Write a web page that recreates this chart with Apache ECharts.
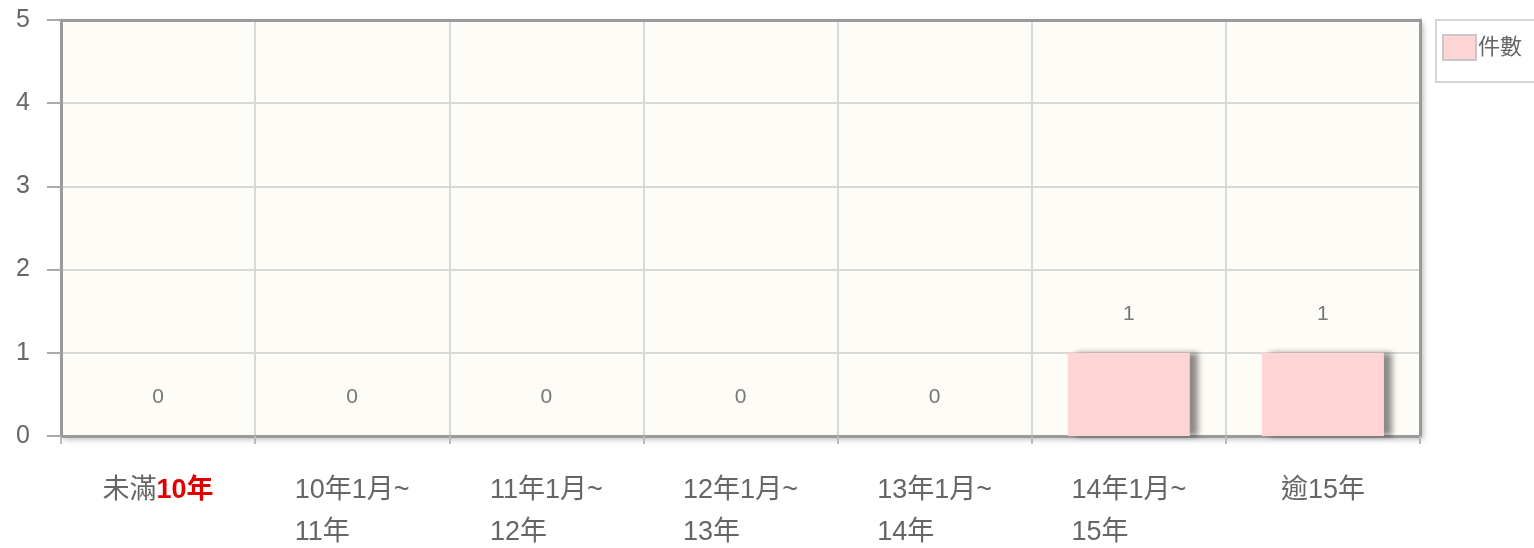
<!DOCTYPE html>
<html>
<head>
<meta charset="utf-8">
<script src="https://cdn.jsdelivr.net/npm/echarts@6/dist/echarts.min.js"></script>
<style>
html,body{margin:0;padding:0;background:#fff;}
#chart{width:1534px;height:548px;}
</style>
</head>
<body>
<div id="chart"></div>
<script>
// 類別
var categories = ['未滿10年', '10年1月~\n11年', '11年1月~\n12年', '12年1月~\n13年', '13年1月~\n14年', '14年1月~\n15年', '逾15年'];
// 件數
var counts = [0, 0, 0, 0, 0, 1, 1];
var seriesName = '件數';

var myChart = echarts.init(document.getElementById('chart'));
var fontFam = '"Liberation Sans", "Noto Sans CJK TC", sans-serif';
var borderLine = { show: true, onZero: false, lineStyle: { color: '#9a9a9a', width: 3 } };

var option = {
    animation: false,
    textStyle: { fontFamily: fontFam },
    legend: {
        show: true,
        left: 1436,
        top: 20,
        orient: 'vertical',
        padding: [14, 40, 21, 6],
        backgroundColor: '#fff',
        borderColor: '#d4d4d4',
        borderWidth: 2,
        itemWidth: 33,
        itemHeight: 25,
        icon: 'rect',
        itemStyle: { borderColor: '#c8c8c8', borderWidth: 2 },
        textStyle: { color: '#666', fontSize: 22, fontFamily: fontFam, padding: [0, 0, 0, -3] },
        data: [seriesName]
    },
    grid: {
        left: 61,
        right: 114,
        top: 20,
        bottom: 112,
        outerBoundsMode: 'none',
        containLabel: false,
        show: true,
        backgroundColor: '#fefcf6',
        borderWidth: 0,
        shadowColor: 'rgba(0,0,0,0.3)',
        shadowBlur: 6,
        shadowOffsetX: 3,
        shadowOffsetY: 3
    },
    xAxis: [{
        type: 'category',
        data: categories,
        axisLine: borderLine,
        axisTick: { show: true, length: 8, lineStyle: { color: '#bbb', width: 2 } },
        splitLine: { show: true, interval: 0, lineStyle: { color: '#d8d8d8', width: 2 } },
        axisLabel: {
            interval: 0,
            margin: 34,
            color: '#666',
            fontSize: 27,
            lineHeight: 42,
            formatter: function (value, index) {
                if (index === 0) {
                    return '{n|未滿}{r|10年}';
                }
                var parts = value.split('\n');
                return parts.map(function (p) { return '{n|' + p + '}'; }).join('\n');
            },
            rich: {
                n: { color: '#666', fontSize: 27, lineHeight: 42, align: 'left', fontFamily: fontFam },
                r: { color: '#e00000', fontSize: 27, lineHeight: 42, fontWeight: 'bold', fontFamily: fontFam }
            }
        }
    }, {
        type: 'category',
        position: 'top',
        data: categories,
        axisLine: borderLine,
        axisTick: { show: false },
        axisLabel: { show: false }
    }],
    yAxis: [{
        type: 'value',
        min: 0,
        max: 5,
        interval: 1,
        axisLine: borderLine,
        axisTick: { show: true, length: 14, lineStyle: { color: '#aaa', width: 2 } },
        splitLine: { show: true, lineStyle: { color: '#d8d8d8', width: 2 } },
        axisLabel: { color: '#666', fontSize: 25, margin: 31 }
    }, {
        type: 'value',
        position: 'right',
        min: 0,
        max: 5,
        interval: 1,
        axisLine: borderLine,
        axisTick: { show: false },
        splitLine: { show: false },
        axisLabel: { show: false }
    }],
    series: [{
        name: seriesName,
        type: 'bar',
        data: counts,
        barWidth: 122,
        itemStyle: {
            color: '#ffd4d4',
            shadowColor: 'rgba(0,0,0,0.45)',
            shadowBlur: 6,
            shadowOffsetX: 8,
            shadowOffsetY: 0
        },
        label: {
            show: true,
            position: 'top',
            distance: 28,
            color: '#777',
            fontSize: 21
        }
    }]
};
myChart.setOption(option);
</script>
</body>
</html>
